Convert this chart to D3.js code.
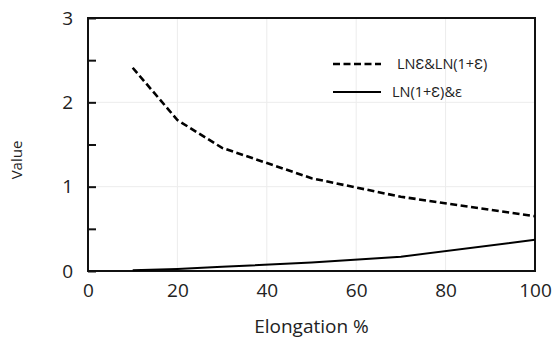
<!DOCTYPE html>
<meta charset="utf-8">
<style>
body { margin: 0; background: #fff; }
text { font-family: "Open Sans", sans-serif; fill: #222; }
</style>
<body>
<script src="https://cdnjs.cloudflare.com/ajax/libs/d3/7.8.5/d3.min.js"></script>
<script>

var w = 556, h = 342;
var margin = {left: 88, right: 21, top: 18, bottom: 71};

// data
var elongation = [10, 20, 30, 50, 70, 100];
var ratioA = [2.41, 1.79, 1.46, 1.10, 0.88, 0.65];   // LNƐ&LN(1+Ɛ)
var ratioB = [0.01, 0.025, 0.05, 0.10, 0.17, 0.37];  // LN(1+Ɛ)&ε
var xTicks = [0, 20, 40, 60, 80, 100];
var yTicks = [0, 1, 2, 3];
var yMinor = [0.5, 1.5, 2.5];
var names = ["LN\u0190&LN(1+\u0190)", "LN(1+\u0190)&\u03b5"];

var svg = d3.select("body").append("svg")
	.attr("width", w)
	.attr("height", h);

var x = d3.scaleLinear().domain([0, 100]).range([margin.left, w - margin.right]);
var y = d3.scaleLinear().domain([0, 3]).range([h - margin.bottom, margin.top]);

// faint grid
svg.selectAll(".gx").data(xTicks.slice(1, -1)).enter().append("line")
	.attr("x1", x).attr("x2", x)
	.attr("y1", y(0)).attr("y2", y(3))
	.attr("stroke", "#ececec").attr("stroke-width", 1);
svg.selectAll(".gy").data(yTicks.slice(1, -1)).enter().append("line")
	.attr("x1", x(0)).attr("x2", x(100))
	.attr("y1", y).attr("y2", y)
	.attr("stroke", "#ececec").attr("stroke-width", 1);

// frame
svg.append("rect")
	.attr("x", x(0)).attr("y", y(3))
	.attr("width", x(100) - x(0)).attr("height", y(0) - y(3))
	.attr("fill", "none").attr("stroke", "#111").attr("stroke-width", 2);

// left axis: ticks inward
var yAxis = d3.axisLeft(y).tickValues(yTicks.concat(yMinor)).tickSize(-8).tickPadding(15)
	.tickFormat(function(d) { return yTicks.indexOf(d) >= 0 ? d : ""; });
var gy = svg.append("g").attr("transform", "translate(" + x(0) + ",0)").call(yAxis);
gy.select(".domain").remove();
gy.selectAll("line").attr("stroke", "#111").attr("stroke-width", 2);
gy.selectAll("text").style("font-size", "19px").attr("fill", "#222");

var xAxis = d3.axisBottom(x).tickValues(xTicks).tickSize(0).tickPadding(13);
var gx = svg.append("g").attr("transform", "translate(0," + y(0) + ")").call(xAxis);
gx.select(".domain").remove();
gx.selectAll("text").style("font-size", "19px").attr("fill", "#222");

// lines
var line = d3.line()
	.x(function(d) { return x(d[0]); })
	.y(function(d) { return y(d[1]); });

svg.append("path")
	.datum(d3.zip(elongation, ratioA))
	.attr("d", line)
	.attr("fill", "none").attr("stroke", "#000")
	.attr("stroke-width", 2.6).attr("stroke-dasharray", "7,3.5");

svg.append("path")
	.datum(d3.zip(elongation, ratioB))
	.attr("d", line)
	.attr("fill", "none").attr("stroke", "#000")
	.attr("stroke-width", 2);

// legend
var legend = [{dash: "7,3.5", sw: 2.6, y: 64, tx: 397}, {dash: null, sw: 2, y: 92, tx: 392}];
legend.forEach(function(l, i) {
	svg.append("line")
		.attr("x1", 333).attr("x2", 381).attr("y1", l.y).attr("y2", l.y)
		.attr("stroke", "#000").attr("stroke-width", l.sw)
		.attr("stroke-dasharray", l.dash);
	svg.append("text")
		.attr("x", l.tx).attr("y", l.y).attr("dy", "0.35em")
		.style("font-size", "14.5px")
		.text(names[i]);
});

// axis titles
svg.append("text")
	.attr("x", (x(0) + x(100)) / 2).attr("y", 326).attr("dy", "0.35em")
	.attr("text-anchor", "middle").style("font-size", "19px")
	.text("Elongation %");
svg.append("text")
	.attr("transform", "translate(17,160) rotate(-90)")
	.attr("text-anchor", "middle").attr("dy", "0.35em")
	.style("font-size", "15px")
	.text("Value");

</script>
</body>
